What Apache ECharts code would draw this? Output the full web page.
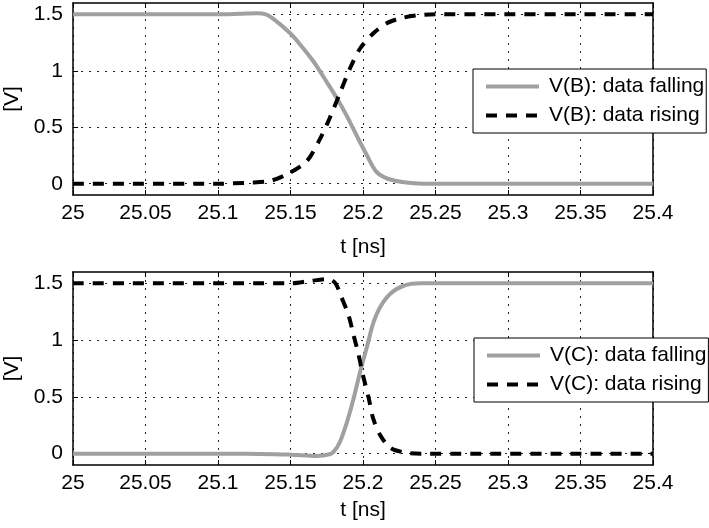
<!DOCTYPE html>
<html>
<head>
<meta charset="utf-8">
<script src="https://cdn.jsdelivr.net/npm/echarts@6/dist/echarts.min.js"></script>
<style>
html,body{margin:0;padding:0;background:#fff;}
#c{width:709px;height:528px;}
</style>
</head>
<body>
<div id="c"></div>
<script>
// ---- data ----
var xTickLabels = [25, 25.05, 25.1, 25.15, 25.2, 25.25, 25.3, 25.35, 25.4];
var yTickValues = [0, 0.5, 1, 1.5];

var legendTop = ['V(B): data falling', 'V(B): data rising'];
var legendBottom = ['V(C): data falling', 'V(C): data rising'];

// top panel
var tB_fall = [25, 25.1, 25.115, 25.127, 25.133, 25.138, 25.15, 25.157, 25.166, 25.175, 25.182, 25.189, 25.196, 25.2025, 25.209, 25.216, 25.225, 25.235, 25.25, 25.4];
var vB_fall = [1.5, 1.5, 1.505, 1.51, 1.5, 1.462, 1.33, 1.227, 1.08, 0.90, 0.756, 0.596, 0.417, 0.256, 0.109, 0.05, 0.02, 0.005, 0, 0];

var tB_rise = [25, 25.1, 25.122, 25.136, 25.147, 25.161, 25.17, 25.177, 25.184, 25.191, 25.198, 25.207, 25.216, 25.225, 25.237, 25.25, 25.4];
var vB_rise = [0, 0, 0.01, 0.025, 0.08, 0.197, 0.388, 0.58, 0.80, 1.02, 1.197, 1.33, 1.418, 1.462, 1.49, 1.5, 1.5];

// bottom panel
var tC_fall = [25, 25.12, 25.15, 25.168, 25.177, 25.18, 25.184, 25.189, 25.1935, 25.198, 25.203, 25.207, 25.212, 25.219, 25.228, 25.24, 25.4];
var vC_fall = [0, 0, -0.009, -0.02, -0.005, 0.02, 0.10, 0.28, 0.485, 0.72, 0.955, 1.147, 1.294, 1.41, 1.479, 1.5, 1.5];

var tC_rise = [25, 25.15, 25.163, 25.176, 25.181, 25.185, 25.19, 25.1935, 25.197, 25.2, 25.204, 25.207, 25.212, 25.219, 25.228, 25.24, 25.4];
var vC_rise = [1.5, 1.5, 1.52, 1.538, 1.5, 1.382, 1.22, 1.044, 0.868, 0.69, 0.485, 0.31, 0.16, 0.05, 0.012, 0, 0];

function pairs(t, v) { return t.map(function (x, i) { return [x, v[i]]; }); }

var FONT = "'Liberation Sans', Arial, Helvetica, sans-serif";
var GRAY = '#a0a0a0';
var FS = 21;

function mainX(gridIndex, gap) {
  return {
    type: 'value', gridIndex: gridIndex, position: 'bottom',
    min: 25, max: 25.4, interval: 0.05,
    name: 't [ns]', nameLocation: 'middle', nameGap: gap,
    nameTextStyle: { fontSize: FS, color: '#000', fontFamily: FONT },
    axisLine: { show: true, onZero: false, lineStyle: { color: '#000', width: 1.5 } },
    axisTick: { show: true, inside: true, length: 5, lineStyle: { color: '#000' } },
    axisLabel: { fontSize: FS, color: '#000', fontFamily: FONT, margin: 8, showMinLabel: true, showMaxLabel: true },
    splitLine: { show: true, lineStyle: { color: '#222', width: 1, type: [2, 6] } }
  };
}
function frameX(gridIndex) {
  return {
    type: 'value', gridIndex: gridIndex, position: 'top',
    min: 25, max: 25.4, interval: 0.05,
    axisLine: { show: true, onZero: false, lineStyle: { color: '#000', width: 1.5 } },
    axisTick: { show: true, inside: true, length: 5, lineStyle: { color: '#000' } },
    axisLabel: { show: false },
    splitLine: { show: false }
  };
}
function mainY(gridIndex) {
  return {
    type: 'value', gridIndex: gridIndex, position: 'left',
    min: -0.1, max: 1.6,
    name: '[V]', nameLocation: 'middle', nameGap: 50,
    nameTextStyle: { fontSize: FS, color: '#000', fontFamily: FONT },
    axisLine: { show: true, onZero: false, lineStyle: { color: '#000', width: 1.5 } },
    axisTick: { show: true, inside: true, length: 5, lineStyle: { color: '#000' }, customValues: yTickValues },
    axisLabel: { fontSize: FS, color: '#000', fontFamily: FONT, margin: 10, customValues: yTickValues },
    splitLine: { show: true, lineStyle: { color: '#222', width: 1, type: [2, 6] } }
  };
}
function frameY(gridIndex) {
  return {
    type: 'value', gridIndex: gridIndex, position: 'right',
    min: -0.1, max: 1.6,
    axisLine: { show: true, onZero: false, lineStyle: { color: '#000', width: 1.5 } },
    axisTick: { show: true, inside: true, length: 5, lineStyle: { color: '#000' }, customValues: yTickValues },
    axisLabel: { show: false, customValues: yTickValues },
    splitLine: { show: false }
  };
}
function legend(names, left, top) {
  return {
    show: true,
    data: names, orient: 'vertical', left: left, top: top,
    padding: [7, 2, 7, 11], itemGap: 8, itemWidth: 53, itemHeight: 20,
    borderColor: '#000', borderWidth: 1, backgroundColor: '#fff',
    itemStyle: { opacity: 0 },
    lineStyle: { width: 4, type: 'inherit' },
    textStyle: { fontSize: FS, color: '#000', fontFamily: FONT, lineHeight: 20, padding: [0, 0, 0, 5] },
    z: 10
  };
}
function line(name, xi, yi, data, dashed) {
  return {
    name: name, type: 'line', xAxisIndex: xi, yAxisIndex: yi,
    data: data, showSymbol: false, symbol: 'none', smooth: 0.3,
    lineStyle: dashed ? { color: '#000', width: 4, type: [11, 9] } : { color: GRAY, width: 4, type: 'solid' },
    itemStyle: { color: dashed ? '#000' : GRAY },
    animation: false
  };
}

var chart = echarts.init(document.getElementById('c'), null, { renderer: 'canvas' });
chart.setOption({
  backgroundColor: '#fff',
  animation: false,
  textStyle: { fontFamily: FONT },
  grid: [
    { left: 73, right: 56, top: 3, height: 192, containLabel: false, outerBoundsMode: 'none' },
    { left: 73, right: 56, top: 272, height: 193, containLabel: false, outerBoundsMode: 'none' }
  ],
  xAxis: [mainX(0, 42), frameX(0), mainX(1, 35), frameX(1)],
  yAxis: [mainY(0), frameY(0), mainY(1), frameY(1)],
  legend: [legend(legendTop, 473, 69), legend(legendBottom, 474, 338)],
  series: [
    line(legendTop[0], 0, 0, pairs(tB_fall, vB_fall), false),
    line(legendTop[1], 0, 0, pairs(tB_rise, vB_rise), true),
    line(legendBottom[0], 2, 2, pairs(tC_fall, vC_fall), false),
    line(legendBottom[1], 2, 2, pairs(tC_rise, vC_rise), true)
  ]
});
</script>
</body>
</html>
